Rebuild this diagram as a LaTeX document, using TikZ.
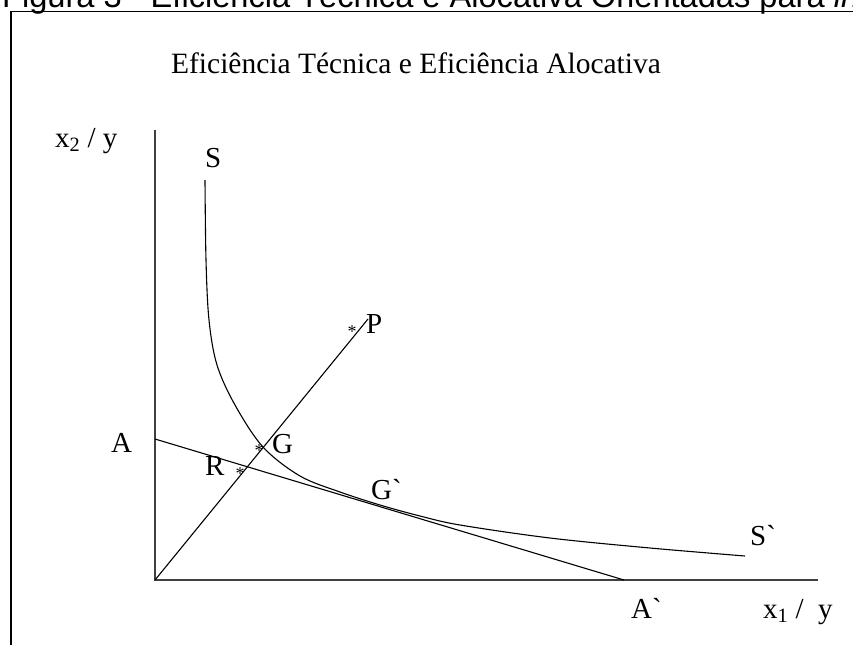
\documentclass[tikz,border=0pt]{standalone}
\usepackage{fontspec}
\setmainfont{Liberation Serif}[Ligatures=TeXOff]
\newfontfamily\capfont{Liberation Sans}
\begin{document}
\begin{tikzpicture}[x=1pt,y=-1pt,
  lbl/.style={inner sep=0pt, anchor=base west, font=\fontsize{29}{29}\selectfont},
  starmark/.style={inner sep=0pt, anchor=base, font=\fontsize{18}{18}\selectfont},
  axisline/.style={line width=2pt, draw=black!75},
  thinline/.style={line width=1.1pt, draw=black},
  framer/.style={line width=1.5pt, draw=black}]
\useasboundingbox (0,0) rectangle (853,645);
% frame
\coordinate (fr1) at (853,11.5);
\coordinate (fr2) at (11,11.5);
\coordinate (fr3) at (11,645);
\draw[framer] (fr1) -- (fr2) -- (fr3);
% caption (cut at top)
\node[inner sep=0pt, anchor=base west, font=\capfont\fontsize{32.6}{32.6}\selectfont] (capt) at (2,7)
  {Figura 3 - Eficiência Técnica e Alocativa Orientadas para \textit{inputs}};
% title
\node[inner sep=0pt, anchor=base, font=\fontsize{29.5}{29.5}\selectfont] (title) at (416,73)
  {Eficiência Técnica e Eficiência Alocativa};
% axes
\coordinate (O) at (155,580);
\coordinate (ytop) at (155,130);
\coordinate (xend) at (818,580);
\draw[axisline] (ytop) -- (O) -- (xend);
% ray O-P
\coordinate (Pend) at (368,319);
\draw[thinline] (O) -- (Pend);
% isocost line A-A`
\coordinate (Ast) at (155,439);
\coordinate (Aen) at (624,580);
\draw[thinline] (Ast) -- (Aen);
% isoquant S-S`
\draw[thinline] plot[smooth, tension=0.55] coordinates {
  (205,180) (206,260) (209,320) (217,365) (235,405) (263,447) (300,476)
  (340,492) (380,505) (420,516) (460,525) (550,538) (650,548) (745,556)};
% labels
\node[lbl] (x2l) at (55,147) {x\textsubscript{2} /\ y};
\node[lbl] (x1l) at (763,618) {x\textsubscript{1} /\ \ y};
\node[lbl] (Sl) at (205,167) {S};
\node[lbl] (Spl) at (750,545) {S\symbol{96}};
\node[lbl] (Al) at (111,452) {A};
\node[lbl] (Apl) at (631,618) {A\symbol{96}};
\node[lbl] (Pl) at (366,333) {P};
\node[lbl] (Gl) at (272,453) {G};
\node[lbl] (Rl) at (205,475) {R};
\node[lbl] (Gpl) at (371,499) {G\symbol{96}};
% stars
\node[starmark] (sP) at (352,337) {*};
\node[starmark] (sG) at (259,456) {*};
\node[starmark] (sR) at (240,479) {*};
\end{tikzpicture}
\end{document}
